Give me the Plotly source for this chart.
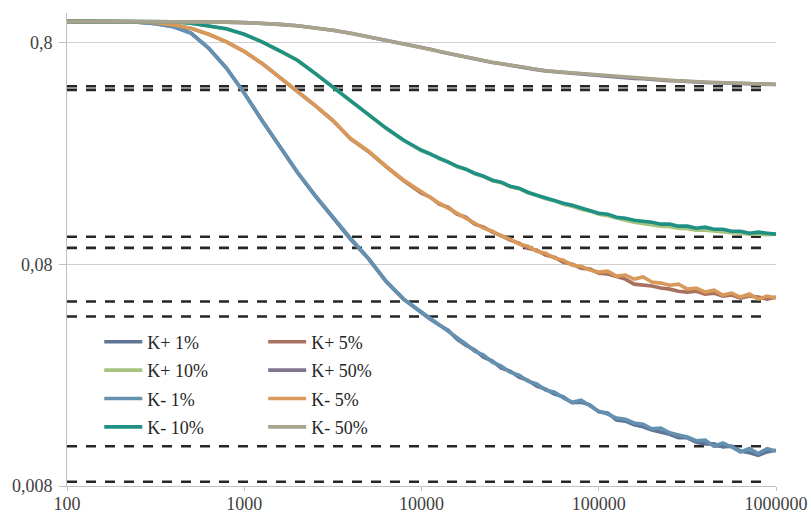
import plotly.graph_objects as go

# Sampling times (s): coarse up to 10^3.9, then every 0.05 decade
time_s = [100, 158, 251, 316, 398, 501, 631, 794, 1000, 1259, 1585, 1995, 2512, 3162,
          3981, 5012, 6310, 7943,
          10000, 11220, 12589, 14125, 15849, 17783, 19953, 22387, 25119, 28184,
          31623, 35481, 39811, 44668, 50119, 56234, 63096, 70795, 79433, 89125,
          100000, 112202, 125893, 141254, 158489, 177828, 199526, 223872, 251189, 281838,
          316228, 354813, 398107, 446684, 501187, 562341, 630957, 707946, 794328, 891251,
          1000000]

k_plus_1 = [1.000, 1.000, 0.991, 0.976, 0.947, 0.885, 0.757, 0.616, 0.475, 0.357, 0.272, 0.208,
            0.163, 0.130, 0.104, 0.0850, 0.0670, 0.0556,
            0.0483, 0.0453, 0.0426, 0.0404, 0.0368, 0.0346, 0.0329, 0.0305, 0.0293, 0.0272,
            0.0264, 0.0248, 0.0240, 0.0226, 0.0219, 0.0208, 0.0202, 0.0190, 0.0191, 0.0186,
            0.0173, 0.0171, 0.0159, 0.0157, 0.0151, 0.0148, 0.0143, 0.0140, 0.0137, 0.0132,
            0.0132, 0.0126, 0.0124, 0.0124, 0.0120, 0.0121, 0.0115, 0.0113, 0.0110, 0.0114,
            0.0116]
k_plus_5 = [1.000, 1.000, 0.996, 0.986, 0.964, 0.930, 0.874, 0.808, 0.732, 0.646, 0.559, 0.483,
            0.417, 0.357, 0.295, 0.259, 0.221, 0.191,
            0.1677, 0.1609, 0.1496, 0.1450, 0.1349, 0.1307, 0.1216, 0.1180, 0.1119, 0.1080,
            0.1030, 0.0998, 0.0947, 0.0928, 0.0881, 0.0863, 0.0819, 0.0802, 0.0770, 0.0762,
            0.0731, 0.0724, 0.0702, 0.0687, 0.0652, 0.0645, 0.0639, 0.0626, 0.0619, 0.0606,
            0.0600, 0.0606, 0.0588, 0.0594, 0.0576, 0.0582, 0.0564, 0.0576, 0.0570, 0.0558,
            0.0570]
k_plus_10 = [1.000, 1.000, 1.000, 1.000, 0.996, 0.981, 0.955, 0.925, 0.874, 0.808, 0.736, 0.667,
             0.582, 0.504, 0.435, 0.376, 0.329, 0.290,
             0.2608, 0.2529, 0.2400, 0.2327, 0.2209, 0.2153, 0.2053, 0.2000, 0.1910, 0.1870,
             0.1795, 0.1758, 0.1686, 0.1643, 0.1585, 0.1552, 0.1496, 0.1466, 0.1421, 0.1392,
             0.1349, 0.1328, 0.1294, 0.1267, 0.1241, 0.1222, 0.1209, 0.1191, 0.1185, 0.1167,
             0.1161, 0.1142, 0.1143, 0.1130, 0.1124, 0.1113, 0.1107, 0.1096, 0.1096, 0.1090,
             0.1096]
k_plus_50 = [1.000, 1.000, 1.000, 1.000, 1.000, 1.000, 0.996, 0.993, 0.988, 0.981, 0.970, 0.956,
             0.936, 0.912, 0.884, 0.853, 0.822, 0.793,
             0.763, 0.748, 0.732, 0.718, 0.702, 0.690, 0.677, 0.666, 0.653, 0.644,
             0.633, 0.624, 0.614, 0.606, 0.598, 0.593, 0.589, 0.585, 0.579, 0.576,
             0.570, 0.567, 0.561, 0.558, 0.553, 0.551, 0.546, 0.545, 0.540, 0.539,
             0.535, 0.534, 0.530, 0.529, 0.527, 0.526, 0.524, 0.524, 0.521, 0.521,
             0.519]
k_minus_1 = [1.000, 1.000, 0.991, 0.976, 0.946, 0.884, 0.756, 0.615, 0.474, 0.358, 0.273, 0.209,
             0.164, 0.131, 0.105, 0.0854, 0.0673, 0.0558,
             0.0488, 0.0458, 0.0430, 0.0400, 0.0372, 0.0350, 0.0325, 0.0312, 0.0290, 0.0278,
             0.0261, 0.0253, 0.0238, 0.0231, 0.0217, 0.0212, 0.0200, 0.0191, 0.0195, 0.0184,
             0.0174, 0.0169, 0.0162, 0.0160, 0.0154, 0.0152, 0.0145, 0.0146, 0.0139, 0.0136,
             0.0133, 0.0128, 0.0129, 0.0121, 0.0125, 0.0120, 0.0114, 0.0118, 0.0112, 0.0118,
             0.0115]
k_minus_5 = [1.000, 1.000, 0.996, 0.986, 0.965, 0.931, 0.875, 0.809, 0.733, 0.647, 0.560, 0.484,
             0.418, 0.358, 0.296, 0.260, 0.222, 0.192,
             0.1695, 0.1593, 0.1512, 0.1436, 0.1363, 0.1294, 0.1241, 0.1166, 0.1130, 0.1073,
             0.1041, 0.0988, 0.0968, 0.0918, 0.0899, 0.0854, 0.0837, 0.0794, 0.0786, 0.0754,
             0.0739, 0.0746, 0.0709, 0.0716, 0.0687, 0.0702, 0.0666, 0.0659, 0.0645, 0.0652,
             0.0619, 0.0626, 0.0600, 0.0612, 0.0582, 0.0594, 0.0570, 0.0588, 0.0558, 0.0576,
             0.0564]
k_minus_10 = [1.000, 1.000, 1.000, 1.000, 0.996, 0.981, 0.956, 0.926, 0.875, 0.809, 0.737, 0.668,
              0.583, 0.505, 0.436, 0.377, 0.330, 0.291,
              0.2622, 0.2516, 0.2413, 0.2315, 0.2221, 0.2153, 0.2064, 0.2000, 0.1920, 0.1880,
              0.1804, 0.1767, 0.1695, 0.1643, 0.1593, 0.1560, 0.1512, 0.1481, 0.1436, 0.1406,
              0.1363, 0.1349, 0.1307, 0.1294, 0.1267, 0.1254, 0.1241, 0.1216, 0.1216, 0.1191,
              0.1191, 0.1166, 0.1179, 0.1154, 0.1154, 0.1130, 0.1130, 0.1107, 0.1119, 0.1107,
              0.1096]
k_minus_50 = [1.000, 1.000, 1.000, 1.000, 1.000, 1.000, 0.996, 0.993, 0.988, 0.981, 0.970, 0.956,
              0.936, 0.912, 0.884, 0.853, 0.822, 0.793,
              0.764, 0.748, 0.733, 0.718, 0.703, 0.690, 0.678, 0.666, 0.654, 0.644,
              0.634, 0.624, 0.615, 0.606, 0.599, 0.594, 0.590, 0.585, 0.580, 0.576,
              0.571, 0.567, 0.563, 0.558, 0.554, 0.551, 0.548, 0.545, 0.542, 0.540,
              0.537, 0.534, 0.531, 0.530, 0.528, 0.527, 0.526, 0.524, 0.523, 0.522,
              0.520]

# Limiting levels drawn as dashed reference lines
reference_levels = [0.510, 0.491, 0.1066, 0.0950, 0.0544, 0.0466, 0.0121, 0.00836]
reference_span = [100, 900000]

series_names = ["K+ 1%", "K+ 5%", "K+ 10%", "K+ 50%", "K- 1%", "K- 5%", "K- 10%", "K- 50%"]
series_values = [k_plus_1, k_plus_5, k_plus_10, k_plus_50,
                 k_minus_1, k_minus_5, k_minus_10, k_minus_50]
series_colors = ["#5E7595", "#A8705E", "#A7C47F", "#7F7590",
                 "#6590B0", "#D8995A", "#1F9184", "#A8A38C"]
# legend column of each series (left column / right column)
series_legend = ["legend", "legend2", "legend", "legend2",
                 "legend", "legend2", "legend", "legend2"]

x_tick_vals = [100, 1000, 10000, 100000, 1000000]
x_tick_text = ["100", "1000", "10000", "100000", "1000000"]
y_tick_vals = [0.008, 0.08, 0.8]
y_tick_text = ["0,008", "0,08", "0,8"]

FONT = "Liberation Serif"

fig = go.Figure()

for level in reference_levels:
    fig.add_trace(go.Scatter(
        x=reference_span, y=[level, level], mode="lines",
        line=dict(color="#262626", width=2.6, dash="10px,9px"),
        showlegend=False, hoverinfo="skip"))

for name, vals, color, leg in zip(series_names, series_values, series_colors, series_legend):
    fig.add_trace(go.Scatter(
        x=time_s, y=vals, mode="lines", name=name,
        line=dict(color=color, width=3.6),
        legend=leg, legendgroup=name))

legend_common = dict(
    xanchor="left", yanchor="top",
    bgcolor="rgba(0,0,0,0)",
    font=dict(family=FONT, size=18, color="#262626"),
    tracegroupgap=2, traceorder="grouped", itemwidth=38,
)

fig.update_layout(
    width=811, height=515,
    margin=dict(l=67, r=35, t=13, b=29, autoexpand=False),
    paper_bgcolor="white", plot_bgcolor="white",
    font=dict(family=FONT, size=18, color="#404040"),
    legend=dict(x=0.0455, y=0.3435, **legend_common),
    legend2=dict(x=0.2767, y=0.3435, **legend_common),
    xaxis=dict(
        type="log", range=[2, 6], automargin=False,
        tickvals=x_tick_vals, ticktext=x_tick_text,
        showgrid=False, zeroline=False,
        showline=True, linecolor="#BFBFBF", linewidth=1,
        ticks="outside", ticklen=4, tickcolor="#BFBFBF",
        ticklabelstandoff=-3,
        tickfont=dict(family=FONT, size=18, color="#404040"),
    ),
    yaxis=dict(
        type="log", range=[-2.09691, 0.038], automargin=False,
        tickvals=y_tick_vals, ticktext=y_tick_text,
        showgrid=True, gridcolor="#D0D0D0", gridwidth=1,
        zeroline=False,
        showline=True, linecolor="#BFBFBF", linewidth=1,
        ticks="outside", ticklen=7, tickcolor="#BFBFBF",
        ticklabelstandoff=3,
        tickfont=dict(family=FONT, size=18, color="#404040"),
    ),
)

fig.write_html("out.html")
